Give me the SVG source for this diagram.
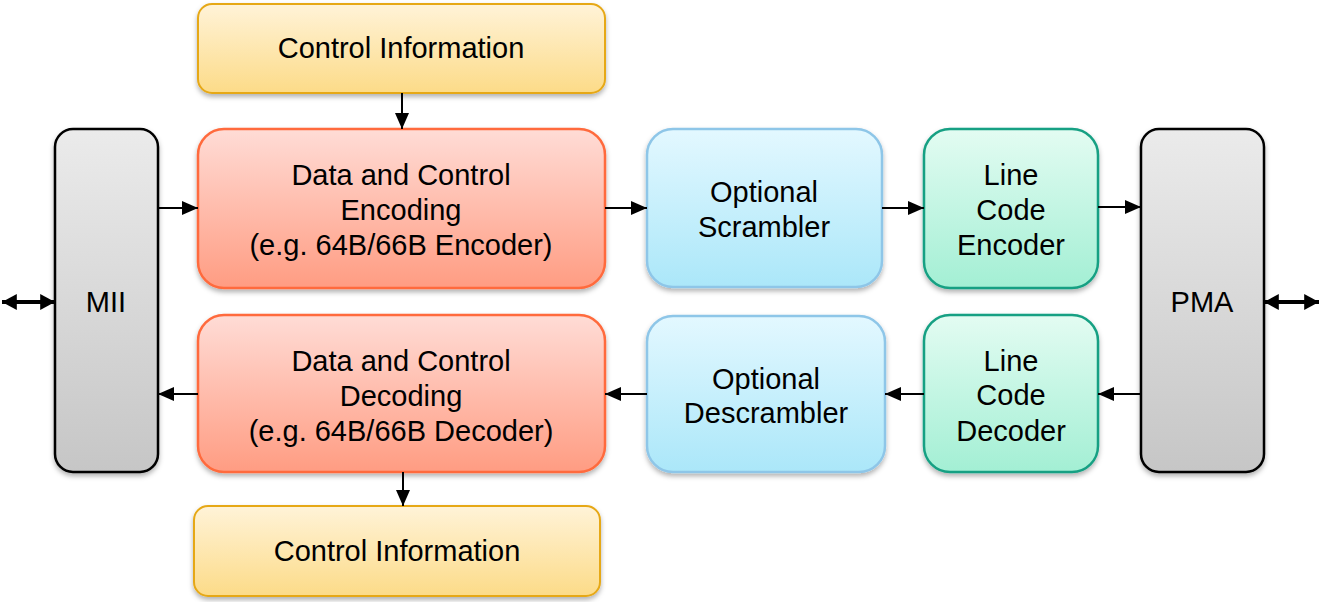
<svg xmlns="http://www.w3.org/2000/svg" width="1320" height="602" viewBox="0 0 1320 602">
<defs>
<linearGradient id="gY" x1="0" y1="0" x2="0" y2="1"><stop offset="0" stop-color="#fff3d8"/><stop offset="1" stop-color="#fcdb88"/></linearGradient>
<linearGradient id="gR" x1="0" y1="0" x2="0" y2="1"><stop offset="0" stop-color="#ffdcd6"/><stop offset="1" stop-color="#ff9c82"/></linearGradient>
<linearGradient id="gB" x1="0" y1="0" x2="0" y2="1"><stop offset="0" stop-color="#e3f8ff"/><stop offset="1" stop-color="#abe7f9"/></linearGradient>
<linearGradient id="gG" x1="0" y1="0" x2="0" y2="1"><stop offset="0" stop-color="#e3fcf2"/><stop offset="1" stop-color="#a3efd4"/></linearGradient>
<linearGradient id="gK" x1="0" y1="0" x2="0" y2="1"><stop offset="0" stop-color="#ebebeb"/><stop offset="1" stop-color="#c6c6c6"/></linearGradient>
<filter id="sh" x="-10%" y="-10%" width="120%" height="130%"><feDropShadow dx="0" dy="3" stdDeviation="2.5" flood-color="#000" flood-opacity="0.3"/></filter>
<marker id="ah" viewBox="0 0 10 10" refX="10" refY="5" markerWidth="8" markerHeight="7" orient="auto-start-reverse" markerUnits="strokeWidth" preserveAspectRatio="none"><path d="M0,0 L10,5 L0,10 z" fill="#000"/></marker>
<marker id="ah2" viewBox="0 0 10 10" refX="10" refY="5" markerWidth="3.7" markerHeight="4" orient="auto-start-reverse" markerUnits="strokeWidth" preserveAspectRatio="none"><path d="M0,0 L10,5 L0,10 z" fill="#000"/></marker>
</defs>
<style>
text{font-family:"Liberation Sans",Arial,sans-serif;font-size:29px;fill:#000;text-anchor:middle}
.y{fill:url(#gY);stroke:#e6a817;stroke-width:2;filter:url(#sh)}
.r{fill:url(#gR);stroke:#ff6a3c;stroke-width:2.5;filter:url(#sh)}
.b{fill:url(#gB);stroke:#8ec6e8;stroke-width:2.5;filter:url(#sh)}
.g{fill:url(#gG);stroke:#16a083;stroke-width:2.5;filter:url(#sh)}
.k{fill:url(#gK);stroke:#000;stroke-width:2.5;filter:url(#sh)}
.c{fill:none;stroke:#000;stroke-width:2;marker-end:url(#ah)}
.d{fill:none;stroke:#000;stroke-width:4;marker-end:url(#ah2);marker-start:url(#ah2)}
</style>
<g id="ctrl-top"><rect class="y" x="198" y="4" width="407" height="89" rx="14"/><text x="401" y="58">Control Information</text></g>
<g id="mii"><rect class="k" x="55" y="129" width="103" height="343" rx="18"/><text x="106" y="312">MII</text></g>
<g id="encoding"><rect class="r" x="198" y="129" width="407" height="159" rx="26"/><text x="401" y="185">Data and Control</text><text x="401" y="220">Encoding</text><text x="401" y="255">(e.g. 64B/66B Encoder)</text></g>
<g id="scrambler"><rect class="b" x="647" y="129" width="235" height="158" rx="26"/><text x="764" y="202">Optional</text><text x="764" y="237">Scrambler</text></g>
<g id="lce"><rect class="g" x="924" y="129" width="174" height="159" rx="26"/><text x="1011" y="185">Line</text><text x="1011" y="220">Code</text><text x="1011" y="255">Encoder</text></g>
<g id="pma"><rect class="k" x="1141" y="129" width="123" height="343" rx="18"/><text x="1202" y="312">PMA</text></g>
<g id="decoding"><rect class="r" x="198" y="315" width="407" height="157" rx="26"/><text x="401" y="371">Data and Control</text><text x="401" y="406">Decoding</text><text x="401" y="441">(e.g. 64B/66B Decoder)</text></g>
<g id="descrambler"><rect class="b" x="647" y="316" width="238" height="156" rx="26"/><text x="766" y="389">Optional</text><text x="766" y="423">Descrambler</text></g>
<g id="lcd"><rect class="g" x="924" y="315" width="174" height="157" rx="26"/><text x="1011" y="371">Line</text><text x="1011" y="405">Code</text><text x="1011" y="441">Decoder</text></g>
<g id="ctrl-bottom"><rect class="y" x="194" y="506" width="406" height="90" rx="14"/><text x="397" y="561">Control Information</text></g>
<g id="connectors">
<path class="c" d="M402,93 V129"/>
<path class="c" d="M158,208 H198"/>
<path class="c" d="M605,208 H647"/>
<path class="c" d="M882,208 H924"/>
<path class="c" d="M1098,207 H1141"/>
<path class="c" d="M1141,394 H1098"/>
<path class="c" d="M924,394 H885"/>
<path class="c" d="M647,394 H605"/>
<path class="c" d="M198,394 H158"/>
<path class="c" d="M403,472 V506"/>
<path class="d" d="M2,302 H55"/>
<path class="d" d="M1264,302 H1319"/>
</g>
</svg>
